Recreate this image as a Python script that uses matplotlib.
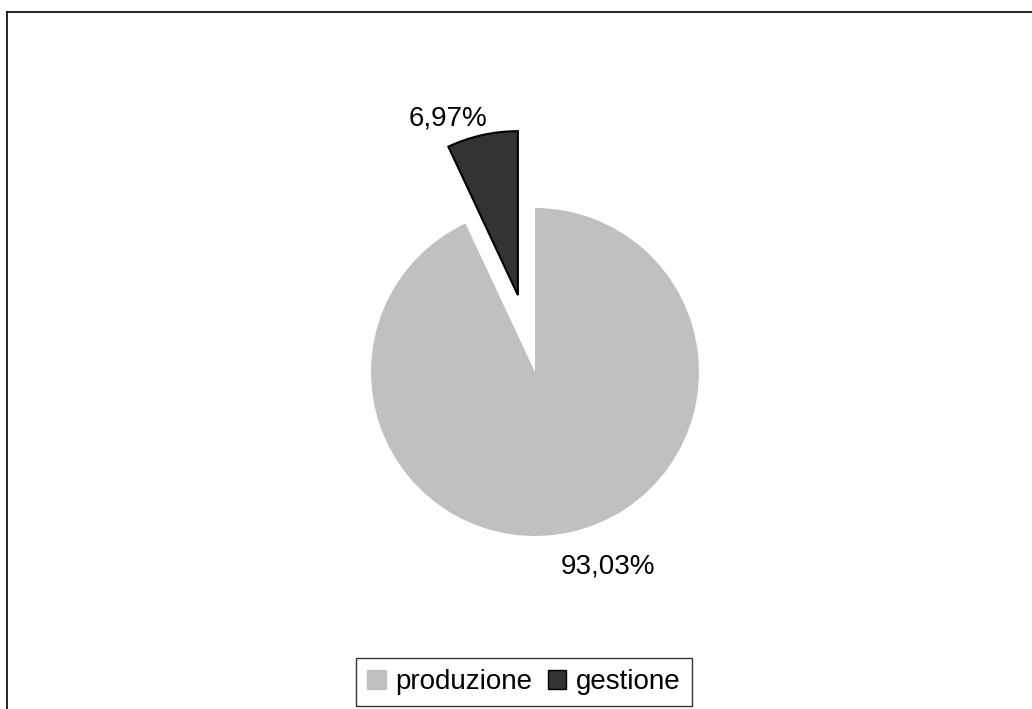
import numpy as np
import matplotlib.pyplot as plt
from matplotlib.patches import Patch
from matplotlib.lines import Line2D

plt.rcParams['font.family'] = ['Liberation Sans', 'DejaVu Sans']

# quote per area
categorie = ['produzione', 'gestione']
quote = [93.03, 6.97]
colori = ['#C0C0C0', '#333333']
bordi = ['none', 'black']
esplodi = [0.0, 0.48]

W, H = 1032, 709
cx, cy, r = 535, 372, 164  # centro e raggio della torta in pixel

fig = plt.figure(figsize=(W / 100, H / 100), dpi=100)
ax = fig.add_axes([0, 0, 1, 1])

wedges, _ = ax.pie(quote, colors=colori, startangle=90, counterclock=False,
                   explode=esplodi, radius=1.0,
                   wedgeprops=dict(linewidth=1.5))
for w, b in zip(wedges, bordi):
    w.set_edgecolor(b)

ax.set_aspect('auto')
ax.set_xlim(-cx / r, (W - cx) / r)
ax.set_ylim(-(H - cy) / r, cy / r)
ax.axis('off')

# etichette percentuali all'esterno delle fette
for w, q, e in zip(wedges, quote, esplodi):
    ang = np.deg2rad((w.theta1 + w.theta2) / 2)
    d = 1.0 + e
    x, y = d * np.cos(ang), d * np.sin(ang)
    testo = ('%.2f%%' % q).replace('.', ',')
    if e > 0:
        ax.annotate(testo, (x, y), xytext=(5, 17), textcoords='offset pixels',
                    ha='right', va='center', fontsize=20)
    else:
        ax.annotate(testo, (x, y), xytext=(-10, -21), textcoords='offset pixels',
                    ha='left', va='top', fontsize=20)

maniglie = [Patch(facecolor=c, edgecolor=(b if b != 'none' else c), linewidth=1)
            for c, b in zip(colori, bordi)]
leg = fig.legend(maniglie, categorie, ncol=2, loc='center',
                 bbox_to_anchor=(524 / W, 1 - 682 / H), fontsize=20,
                 frameon=True, fancybox=False, shadow=False,
                 handlelength=0.65, handleheight=0.65, handletextpad=0.36,
                 columnspacing=0.55, borderpad=0.4, borderaxespad=0)
leg.get_frame().set_edgecolor('black')
leg.get_frame().set_linewidth(1)

# cornice del grafico
fig.add_artist(Line2D([7 / W, 1], [1 - 12 / H, 1 - 12 / H], color='black',
                      linewidth=1.2, transform=fig.transFigure))
fig.add_artist(Line2D([7 / W, 7 / W], [0, 1 - 12 / H], color='black',
                      linewidth=1.2, transform=fig.transFigure))

fig.savefig('out.png', dpi=100)
